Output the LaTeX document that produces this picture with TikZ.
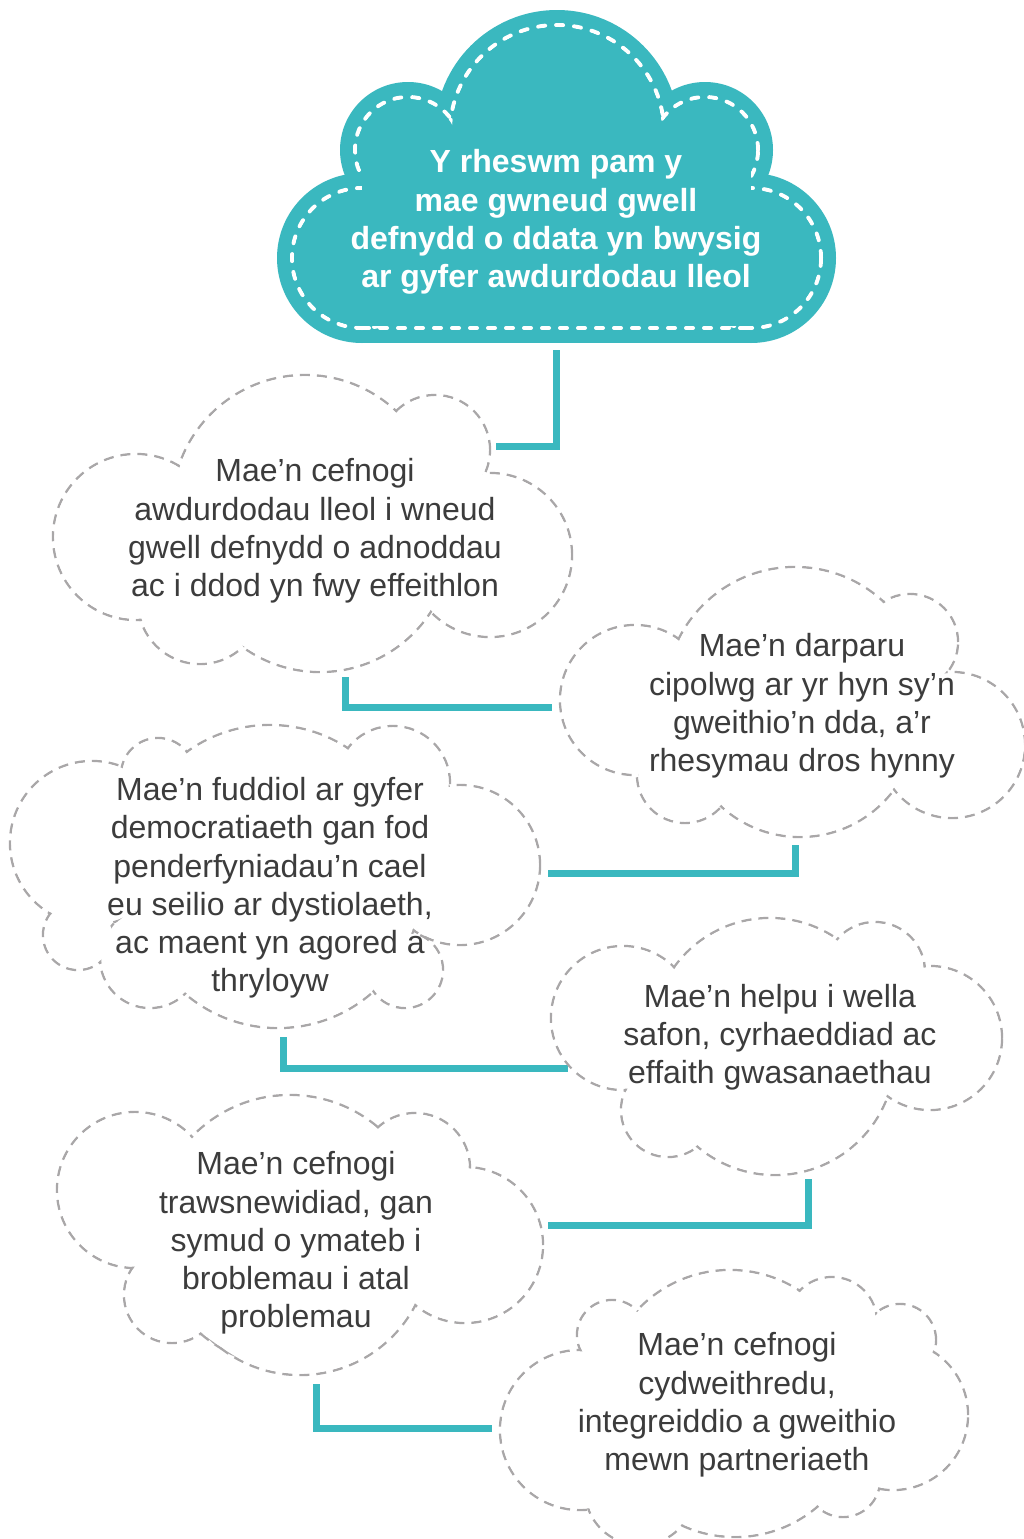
\documentclass[tikz,border=0pt]{standalone}
\usepackage{fontspec}
\setmainfont{Liberation Sans}
\definecolor{teal1}{HTML}{3AB8BF}
\definecolor{cgray}{HTML}{A9A7A8}
\definecolor{tgray}{HTML}{3C3C3C}
\tikzset{
  conn/.style={draw=teal1, line width=7pt},
  cloudline/.style={draw=cgray, line width=2.4pt, dash pattern=on 10pt off 7pt},
  whitedash/.style={draw=white, line width=4pt, line cap=round, dash pattern=on 7pt off 11pt},
  bodytext/.style={text=tgray, align=center, font=\fontsize{32pt}{38.2pt}\selectfont, inner sep=0pt},
  titletext/.style={text=white, align=center, font=\fontsize{32pt}{38.3pt}\selectfont\bfseries, inner sep=0pt},
}
\newcommand\graycloud[1]{%
  \foreach \ccx/\ccy/\ccr in {#1}{\draw[cloudline] (\ccx,\ccy) circle[radius=\ccr pt];}%
  \foreach \ccx/\ccy/\ccr in {#1}{\fill[white] (\ccx,\ccy) circle[radius=\ccr pt-1.3pt];}%
}
\begin{document}
\begin{tikzpicture}[x=1pt,y=-1pt]
\useasboundingbox (0,0) rectangle (1024,1539);
\clip (0,0) rectangle (1024,1539);
\fill[white] (0,0) rectangle (1024,1539);

% connector end points
\coordinate (k1s) at (556,350); \coordinate (k1e) at (496,446);
\coordinate (k2s) at (345,677); \coordinate (k2e) at (552,707);
\coordinate (k3s) at (795,845); \coordinate (k3e) at (548,873);
\coordinate (k4s) at (283,1037); \coordinate (k4e) at (568,1068);
\coordinate (k5s) at (808,1179); \coordinate (k5e) at (548,1225);
\coordinate (k6s) at (316,1384); \coordinate (k6e) at (492,1428);
\draw[conn] (k1s) |- (k1e);
\draw[conn] (k2s) |- (k2e);
\draw[conn] (k3s) |- (k3e);
\draw[conn] (k4s) |- (k4e);
\draw[conn] (k5s) |- (k5e);
\draw[conn] (k6s) |- (k6e);

% top cloud
\def\topc{362/258/85, 408/150/68, 557/132/122, 705/150/68, 751/258/85}
\foreach \ccx/\ccy/\ccr in \topc {\fill[teal1] (\ccx,\ccy) circle[radius=\ccr pt];}
\fill[teal1] (362,150) rectangle (751,343);
\foreach \ccx/\ccy/\ccr in \topc {\draw[whitedash] (\ccx,\ccy) circle[radius=\ccr pt-15pt];}
\draw[whitedash] (362,328) -- (751,328);
\foreach \ccx/\ccy/\ccr in \topc {\fill[teal1] (\ccx,\ccy) circle[radius=\ccr pt-17.2pt];}
\fill[teal1] (362,150) rectangle (751,325.8);

% grey clouds
\graycloud{136/537/83, 305/508/133, 435/450/55, 490/555/82, 320/540/132, 200/602/62}
\graycloud{635/700/75, 795/697/130, 910/642/48, 952/745/73, 800/720/117, 685/775/48}
\graycloud{92/843/82, 158/775/37, 270/867/142, 393/783/57, 460/865/80, 405/970/38, 278/885/143, 150/958/50, 78/935/35}
\graycloud{623/1018/72, 770/1036/118, 875/972/50, 930/1038/72, 775/1055/120, 668/1110/47}
\graycloud{135/1190/78, 290/1231/136, 415/1168/55, 465/1245/78, 300/1245/130, 172/1295/48}
\graycloud{580/1430/80, 612/1335/35, 730/1397/127, 832/1322/45, 900/1340/36, 893/1415/75, 843/1480/37, 735/1410/127, 640/1490/55}

% texts
\node[titletext] (t0) at (556,222) {Y rheswm pam y\\mae gwneud gwell\\defnydd o ddata yn bwysig\\ar gyfer awdurdodau lleol};
\node[bodytext] (t1) at (315,531) {Mae’n cefnogi\\awdurdodau lleol i wneud\\gwell defnydd o adnoddau\\ac i ddod yn fwy effeithlon};
\node[bodytext] (t2) at (802,706) {Mae’n darparu\\cipolwg ar yr hyn sy’n\\gweithio’n dda, a’r\\rhesymau dros hynny};
\node[bodytext] (t3) at (270,888) {Mae’n fuddiol ar gyfer\\democratiaeth gan fod\\penderfyniadau’n cael\\eu seilio ar dystiolaeth,\\ac maent yn agored a\\thryloyw};
\node[bodytext] (t4) at (780,1037) {Mae’n helpu i wella\\safon, cyrhaeddiad ac\\effaith gwasanaethau};
\node[bodytext] (t5) at (296,1243) {Mae’n cefnogi\\trawsnewidiad, gan\\symud o ymateb i\\broblemau i atal\\problemau};
\node[bodytext] (t6) at (737,1405) {Mae’n cefnogi\\cydweithredu,\\integreiddio a gweithio\\mewn partneriaeth};
\end{tikzpicture}
\end{document}
